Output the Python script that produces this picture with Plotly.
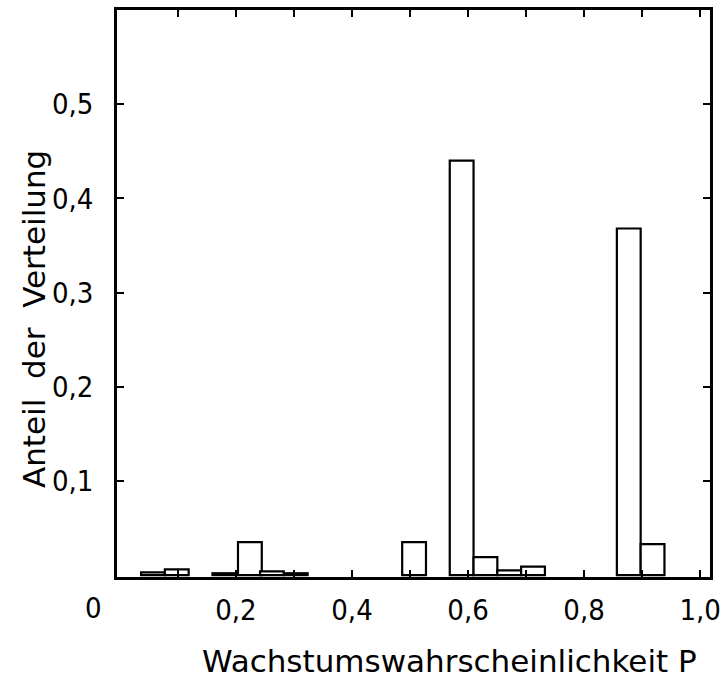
import plotly.graph_objects as go

# Bin centres (Wachstumswahrscheinlichkeit P) and shares (Anteil der Verteilung)
p_bins = [0.057, 0.098, 0.180, 0.224, 0.262, 0.303, 0.507, 0.589, 0.630, 0.671, 0.712, 0.877, 0.918]
anteil = [0.003, 0.006, 0.002, 0.035, 0.004, 0.002, 0.035, 0.440, 0.019, 0.005, 0.009, 0.368, 0.033]
bin_width = 0.041

x_tickvals = [0.1, 0.2, 0.3, 0.4, 0.5, 0.6, 0.7, 0.8, 0.9, 1.0]
x_ticktext = ["", "0,2", "", "0,4", "", "0,6", "", "0,8", "", "1,0"]
y_tickvals = [0.1, 0.2, 0.3, 0.4, 0.5]
y_ticktext = ["0,1", "0,2", "0,3", "0,4", "0,5"]

title_font = "DejaVu Sans"
tick_font = "Liberation Sans Narrow, DejaVu Sans Condensed, DejaVu Sans"

fig = go.Figure()
fig.add_trace(go.Bar(
    x=p_bins, y=anteil, width=bin_width,
    marker=dict(color="white", line=dict(color="black", width=2.2)),
))

fig.update_layout(
    width=723, height=682,
    margin=dict(l=117, r=13, t=10, b=105),
    paper_bgcolor="white", plot_bgcolor="white",
    showlegend=False,
    font=dict(family=title_font, color="black", size=29),
    xaxis=dict(
        range=[-0.005, 1.017], tickvals=x_tickvals, ticktext=x_ticktext,
        ticks="inside", ticklen=7, tickwidth=2, tickcolor="black",
        showline=True, linewidth=2.5, linecolor="black", mirror="ticks",
        showgrid=False, zeroline=False, tickfont=dict(size=29, family=tick_font),
        automargin=False, ticklabelstandoff=5, ticklabeloverflow="allow",
    ),
    yaxis=dict(
        range=[-0.002, 0.6], tickvals=y_tickvals, ticktext=y_ticktext,
        ticks="inside", ticklen=7, tickwidth=2, tickcolor="black",
        showline=True, linewidth=2.5, linecolor="black", mirror="ticks",
        showgrid=False, zeroline=False, tickfont=dict(size=29, family=tick_font),
        automargin=False, ticklabelstandoff=15,
    ),
    annotations=[
        dict(text="0", xref="paper", yref="paper", x=-0.04, y=-0.022,
             xanchor="center", yanchor="top", showarrow=False,
             font=dict(size=29, family=tick_font)),
        dict(text="Wachstumswahrscheinlichkeit P", xref="paper", yref="paper",
             x=0.56, y=-0.112, xanchor="center", yanchor="top", showarrow=False,
             font=dict(size=31)),
        dict(text="Anteil  der  Verteilung", xref="paper", yref="paper",
             x=-0.14, y=0.455, xanchor="center", yanchor="middle", showarrow=False,
             textangle=-90, font=dict(size=31)),
    ],
)

fig.write_html("out.html")
